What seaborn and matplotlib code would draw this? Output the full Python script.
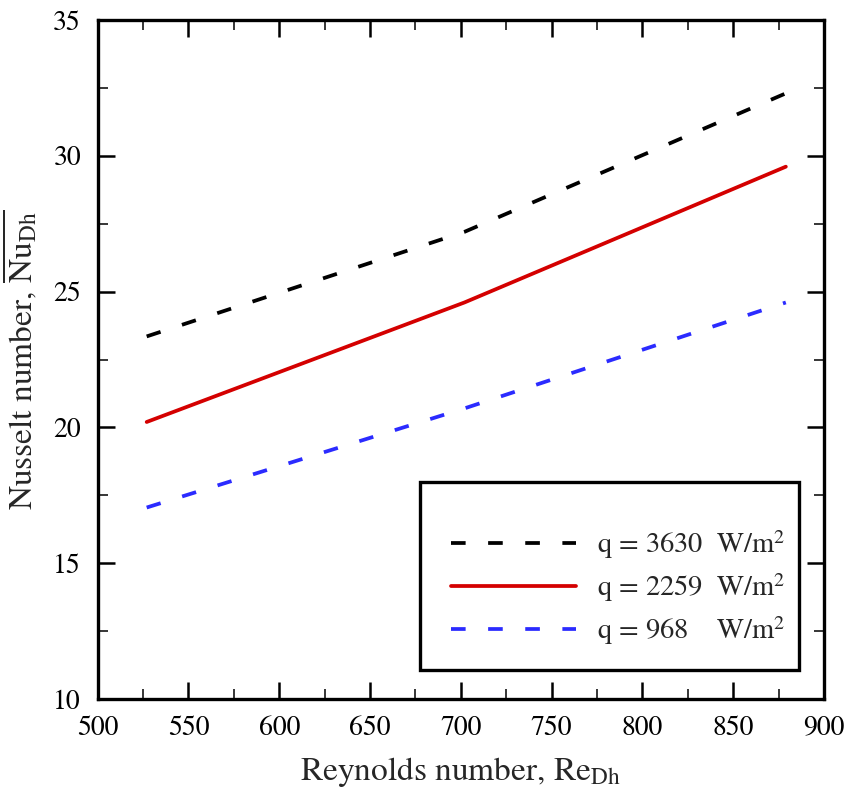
import numpy as np
import pandas as pd
import matplotlib
matplotlib.use("Agg")
import matplotlib.pyplot as plt
from matplotlib.patches import Rectangle
from matplotlib.ticker import MultipleLocator
import seaborn as sns

# Reynolds numbers (hydraulic diameter based)
reynolds = [527, 702, 879]

# Mean Nusselt number for each heat flux
nu_q3630 = [23.35, 27.2, 32.3]
nu_q2259 = [20.2, 24.6, 29.6]
nu_q968 = [17.05, 20.7, 24.6]

labels = ["q = 3630  W/m$^2$", "q = 2259  W/m$^2$", "q = 968    W/m$^2$"]
colors = ["black", "#d40000", "#2b2bff"]
styles = [(0, (3.9, 6.0)), "-", (0, (3.9, 6.0))]

sns.set_style("ticks")
plt.rcParams["font.family"] = ["STIXGeneral", "Liberation Serif", "DejaVu Serif"]
plt.rcParams["mathtext.fontset"] = "stix"

fig = plt.figure(figsize=(8.47, 7.91), dpi=100)
ax = fig.add_axes([0.1153, 0.1163, 0.8575, 0.8584])

series = [nu_q3630, nu_q2259, nu_q968]
for nu, lab, col, ls in zip(series, labels, colors, styles):
    df = pd.DataFrame({"Re": reynolds, "Nu": nu})
    sns.lineplot(data=df, x="Re", y="Nu", ax=ax, color=col, linestyle=ls,
                 linewidth=2.7, label=lab)

ax.set_xlim(500, 900)
ax.set_ylim(10, 35)
ax.xaxis.set_major_locator(MultipleLocator(50))
ax.xaxis.set_minor_locator(MultipleLocator(25))
ax.yaxis.set_major_locator(MultipleLocator(5))
ax.yaxis.set_minor_locator(MultipleLocator(2.5))

ax.tick_params(which="both", direction="in", top=True, right=True,
               labelsize=20, colors="black")
ax.tick_params(which="major", length=12, width=1.8, pad=12)
ax.tick_params(which="minor", length=7, width=1.1)
for s in ax.spines.values():
    s.set_linewidth(2.4)
    s.set_color("black")

ax.set_xlabel("Reynolds number, Re$_{\\mathrm{Dh}}$", fontsize=24, labelpad=10)
ax.set_ylabel("Nusselt number, $\\overline{\\mathrm{Nu}_{\\mathrm{Dh}}}$",
              fontsize=24, labelpad=10)

# legend box drawn as a separate frame
box = (0.4437, 0.0427, 0.5219, 0.2769)
ax.add_patch(Rectangle(box[:2], box[2], box[3], transform=ax.transAxes,
                       fill=False, edgecolor="black", linewidth=2.4, zorder=5))
leg = ax.legend(loc="center", bbox_to_anchor=(box[0] + 0.012, box[1] - 0.017, box[2], box[3]),
                frameon=False, fontsize=20.5, handlelength=4.4, handletextpad=0.75,
                labelspacing=0.35)

plt.savefig("out.png", dpi=100)
plt.close()
